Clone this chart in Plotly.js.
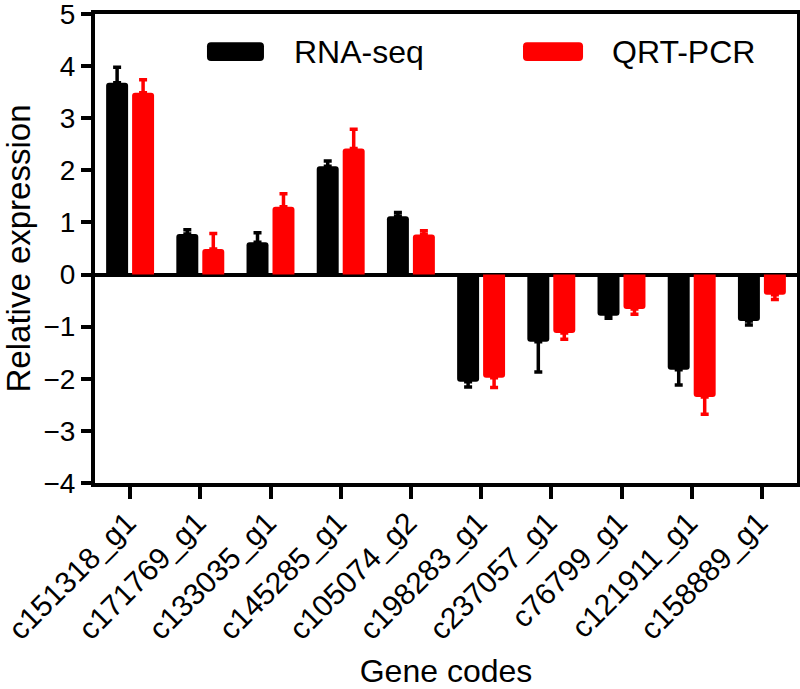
<!DOCTYPE html>
<html>
<head>
<meta charset="utf-8">
<script src="https://cdn.plot.ly/plotly-3.0.1.min.js"></script>
<style>
  html, body { margin: 0; padding: 0; background: #fff; }
  #chart { width: 800px; height: 689px; }
</style>
</head>
<body>
<div id="chart"></div>
<script>
// ---- data ----
const geneCodes = ["c151318_g1", "c171769_g1", "c133035_g1", "c145285_g1", "c105074_g2",
                   "c198283_g1", "c237057_g1", "c76799_g1", "c121911_g1", "c158889_g1"];
const seriesNames = ["RNA-seq", "QRT-PCR"];
const rnaSeq    = [3.68, 0.78, 0.62, 2.08, 1.12, -2.06, -1.29, -0.79, -1.83, -0.89];
const rnaSeqErr = [0.30, 0.08, 0.18, 0.10, 0.07, 0.10, 0.58, 0.05, 0.29, 0.08];
const qrtPcr    = [3.49, 0.49, 1.30, 2.42, 0.77, -1.98, -1.12, -0.66, -2.35, -0.39];
const qrtPcrErr = [0.25, 0.30, 0.25, 0.37, 0.07, 0.19, 0.12, 0.10, 0.33, 0.09];
const yTicks = [-4, -3, -2, -1, 0, 1, 2, 3, 4, 5];

// error bars drawn only away from zero
function errUp(v, e)   { return v.map((x, i) => x >= 0 ? e[i] : 0); }
function errDown(v, e) { return v.map((x, i) => x < 0 ? e[i] : 0); }

const FONT = "Liberation Sans, Arial, sans-serif";
const colors = ["#000000", "#ff0000"];

function barTrace(vals, errs, name, color) {
  return {
    type: "bar",
    x: geneCodes,
    y: vals,
    name: name,
    marker: { color: color, cornerradius: 3, line: { width: 0 } },
    error_y: {
      type: "data", symmetric: false,
      array: errUp(vals, errs), arrayminus: errDown(vals, errs),
      color: color, thickness: 3.5, width: 4
    },
    hoverinfo: "x+y"
  };
}

const data = [
  barTrace(rnaSeq, rnaSeqErr, seriesNames[0], colors[0]),
  barTrace(qrtPcr, qrtPcrErr, seriesNames[1], colors[1])
];

// legend drawn as shapes + annotations (paper coords)
function roundRect(x0, y0, x1, y1, rx, ry) {
  return `M ${x0 + rx} ${y0} L ${x1 - rx} ${y0} Q ${x1} ${y0} ${x1} ${y0 + ry} ` +
         `L ${x1} ${y1 - ry} Q ${x1} ${y1} ${x1 - rx} ${y1} L ${x0 + rx} ${y1} ` +
         `Q ${x0} ${y1} ${x0} ${y1 - ry} L ${x0} ${y0 + ry} Q ${x0} ${y0} ${x0 + rx} ${y0} Z`;
}
const rx = 4 / 702, ry = 4 / 469;
const legendItems = [
  { x0: 0.1595, x1: 0.2407, tx: 0.280 },
  { x0: 0.6097, x1: 0.6952, tx: 0.734 }
];
const shapes = legendItems.map((it, i) => ({
  type: "path", xref: "paper", yref: "paper",
  path: roundRect(it.x0, 0.900, it.x1, 0.940, rx, ry),
  fillcolor: colors[i], line: { width: 0 }
}));
const annotations = legendItems.map((it, i) => ({
  xref: "paper", yref: "paper", x: it.tx, y: 0.920,
  xanchor: "left", yanchor: "middle", showarrow: false,
  text: seriesNames[i], font: { family: FONT, size: 32, color: "#000" }
}));

const layout = {
  width: 800, height: 689,
  margin: { l: 95, r: 3, t: 14, b: 206 },
  paper_bgcolor: "#fff", plot_bgcolor: "#fff",
  showlegend: false,
  barmode: "group",
  bargap: 0.26,
  bargroupgap: 0.154,
  font: { family: FONT, color: "#000" },
  xaxis: {
    range: [-0.5, 9.5],
    showline: true, linewidth: 4, linecolor: "#000", mirror: true,
    ticks: "outside", ticklen: 12, tickwidth: 4, tickcolor: "#000",
    tickangle: -45,
    ticklabelstandoff: -6,
    ticklabelshift: -3,
    ticklabeloverflow: "allow",
    tickfont: { family: FONT, size: 30, color: "#000" },
    showgrid: false, zeroline: false,
    automargin: false,
    title: { text: "Gene codes", font: { family: FONT, size: 32, color: "#000" }, standoff: 20 }
  },
  yaxis: {
    range: [-4.002, 5.002],
    tickvals: yTicks,
    showline: true, linewidth: 4, linecolor: "#000", mirror: true,
    ticks: "outside", ticklen: 10, tickwidth: 4, tickcolor: "#000",
    ticklabeloverflow: "allow",
    tickfont: { family: FONT, size: 28, color: "#000" },
    showgrid: false,
    zeroline: true, zerolinewidth: 4, zerolinecolor: "#000",
    automargin: false,
    title: { text: "Relative expression", font: { family: FONT, size: 33, color: "#000" }, standoff: 14 }
  },
  shapes: shapes,
  annotations: annotations
};

Plotly.newPlot("chart", data, layout, { staticPlot: true, displayModeBar: false });
</script>
</body>
</html>
